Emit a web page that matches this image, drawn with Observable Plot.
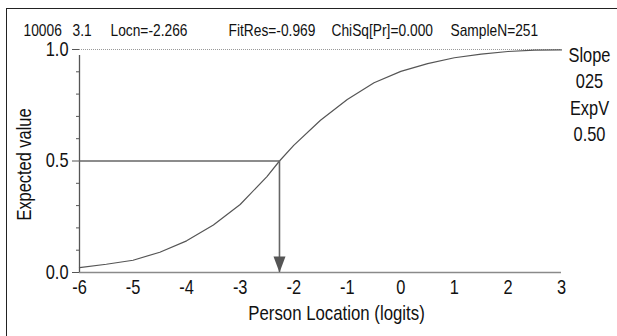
<!DOCTYPE html>
<html>
<head>
<meta charset="utf-8">
<script src="https://cdn.jsdelivr.net/npm/d3@7"></script>
<script src="https://cdn.jsdelivr.net/npm/@observablehq/plot@0.6"></script>
<style>
  html, body { margin: 0; padding: 0; background: #fff; overflow: hidden; }
  #wrap { position: relative; width: 617px; height: 336px; overflow: hidden; }
  #wrap svg { position: absolute; left: 0; top: 0; }
  #frame { position: absolute; left: 6px; top: 8px; width: 700px; height: 400px; border: 1.5px solid #222; }
</style>
</head>
<body>
<div id="wrap"><div id="frame"></div></div>
<script>
// ---- data ----
const curveX = [-6, -5.5, -5, -4.5, -4, -3.5, -3, -2.5, -2.266, -2, -1.5, -1, -0.5, 0, 0.5, 1, 1.5, 2, 2.5, 3];
const curveY = [0.022, 0.037, 0.055, 0.091, 0.142, 0.213, 0.305, 0.43, 0.5, 0.57, 0.683, 0.776, 0.851, 0.902, 0.937, 0.963, 0.979, 0.991, 0.997, 0.998];
const locn = -2.266;
const expV = 0.5;
const xTicks = [-6, -5, -4, -3, -2, -1, 0, 1, 2, 3];
const yMajorTicks = [0, 0.5, 1];
const yMinorTicks = [0.1, 0.2, 0.3, 0.4, 0.6, 0.7, 0.8, 0.9];
const headerItems = ["10006", "3.1", "Locn=-2.266", "FitRes=-0.969", "ChiSq[Pr]=0.000", "SampleN=251"];
const rightLabels = ["Slope", "025", "ExpV", "0.50"];
const xLabel = "Person Location (logits)";
const yLabel = "Expected value";

// ---- layout ----
const headerStarts = [23, 72, 110, 228, 331, 450];
const FONT = "'Liberation Sans', Arial, sans-serif";
const NARROW = 0.82;
const curve = curveX.map((x, i) => ({x, y: curveY[i]}));

const arrowShape = {
  draw(context, l) {
    context.moveTo(0, -l);
    context.lineTo(-6, 0);
    context.lineTo(6, 0);
    context.closePath();
  }
};

const plot = Plot.plot({
  width: 617,
  height: 336,
  marginLeft: 79,
  marginRight: 56,
  marginTop: 49,
  marginBottom: 64,
  style: {fontFamily: FONT, fontSize: "20px", color: "#111", background: "transparent", overflow: "visible"},
  x: {domain: [-6, 3]},
  y: {domain: [0, 1]},
  marks: [
    Plot.ruleY([1], {stroke: "#999", strokeWidth: 1, strokeDasharray: "1,1"}),
    Plot.ruleY([0], {stroke: "#8a8a8a", strokeWidth: 1.6}),
    Plot.ruleX([-6], {y1: 0, y2: 1, stroke: "#555", strokeWidth: 1.3, insetBottom: -6}),
    Plot.axisY({ticks: yMinorTicks, tickSize: 3, tickFormat: () => "", stroke: "#555", label: null}),
    Plot.axisY({ticks: yMajorTicks, tickSize: 7, tickPadding: 4, tickFormat: d3.format(".1f"), stroke: "#555", label: null, fontSize: 20}),
    Plot.axisX({ticks: xTicks, tickSize: 0, tickPadding: 7, tickFormat: d => String(d), label: null, fontSize: 20}),
    Plot.line(curve, {x: "x", y: "y", stroke: "#555", strokeWidth: 1.2}),
    Plot.ruleY([expV], {x1: -6, x2: locn, stroke: "#666", strokeWidth: 1.6}),
    Plot.ruleX([locn], {y1: expV, y2: 0, stroke: "#666", strokeWidth: 1.6}),
    Plot.vector([locn], {x: d => d, y: 0, length: 16, rotate: 180, anchor: "end", shape: arrowShape, fill: "#555", stroke: "none"}),
    Plot.text([yLabel], {frameAnchor: "left", rotate: -90, textAnchor: "middle", lineAnchor: "middle", dx: -55, dy: 3.5, fontSize: 20, fill: "#111"}),
    Plot.text([xLabel], {frameAnchor: "bottom", textAnchor: "middle", lineAnchor: "top", dx: 16, dy: 33, fontSize: 20.5, fill: "#111"}),
    Plot.text([rightLabels.join("\n")], {frameAnchor: "top-right", textAnchor: "middle", lineAnchor: "top", dx: 28, dy: -6.5, lineHeight: 1.32, fontSize: 20, fill: "#111"}),
    ...headerItems.map((t, i) => Plot.text([t], {frameAnchor: "top-left", textAnchor: "start", lineAnchor: "top", dx: headerStarts[i] - 79, dy: -25.7, fontSize: 16.8, fill: "#111"}))
  ]
});
// condense all text horizontally (narrow sans look)
plot.querySelectorAll("text").forEach(t => {
  const tr = t.getAttribute("transform");
  if (tr) {
    t.setAttribute("transform", tr + ` scale(${NARROW},1)`);
  } else {
    const x = +(t.getAttribute("x") || 0), y = +(t.getAttribute("y") || 0);
    t.removeAttribute("x"); t.removeAttribute("y");
    t.setAttribute("transform", `translate(${x},${y}) scale(${NARROW},1)`);
  }
});
document.getElementById("wrap").insertBefore(plot, document.getElementById("frame"));
</script>
</body>
</html>
